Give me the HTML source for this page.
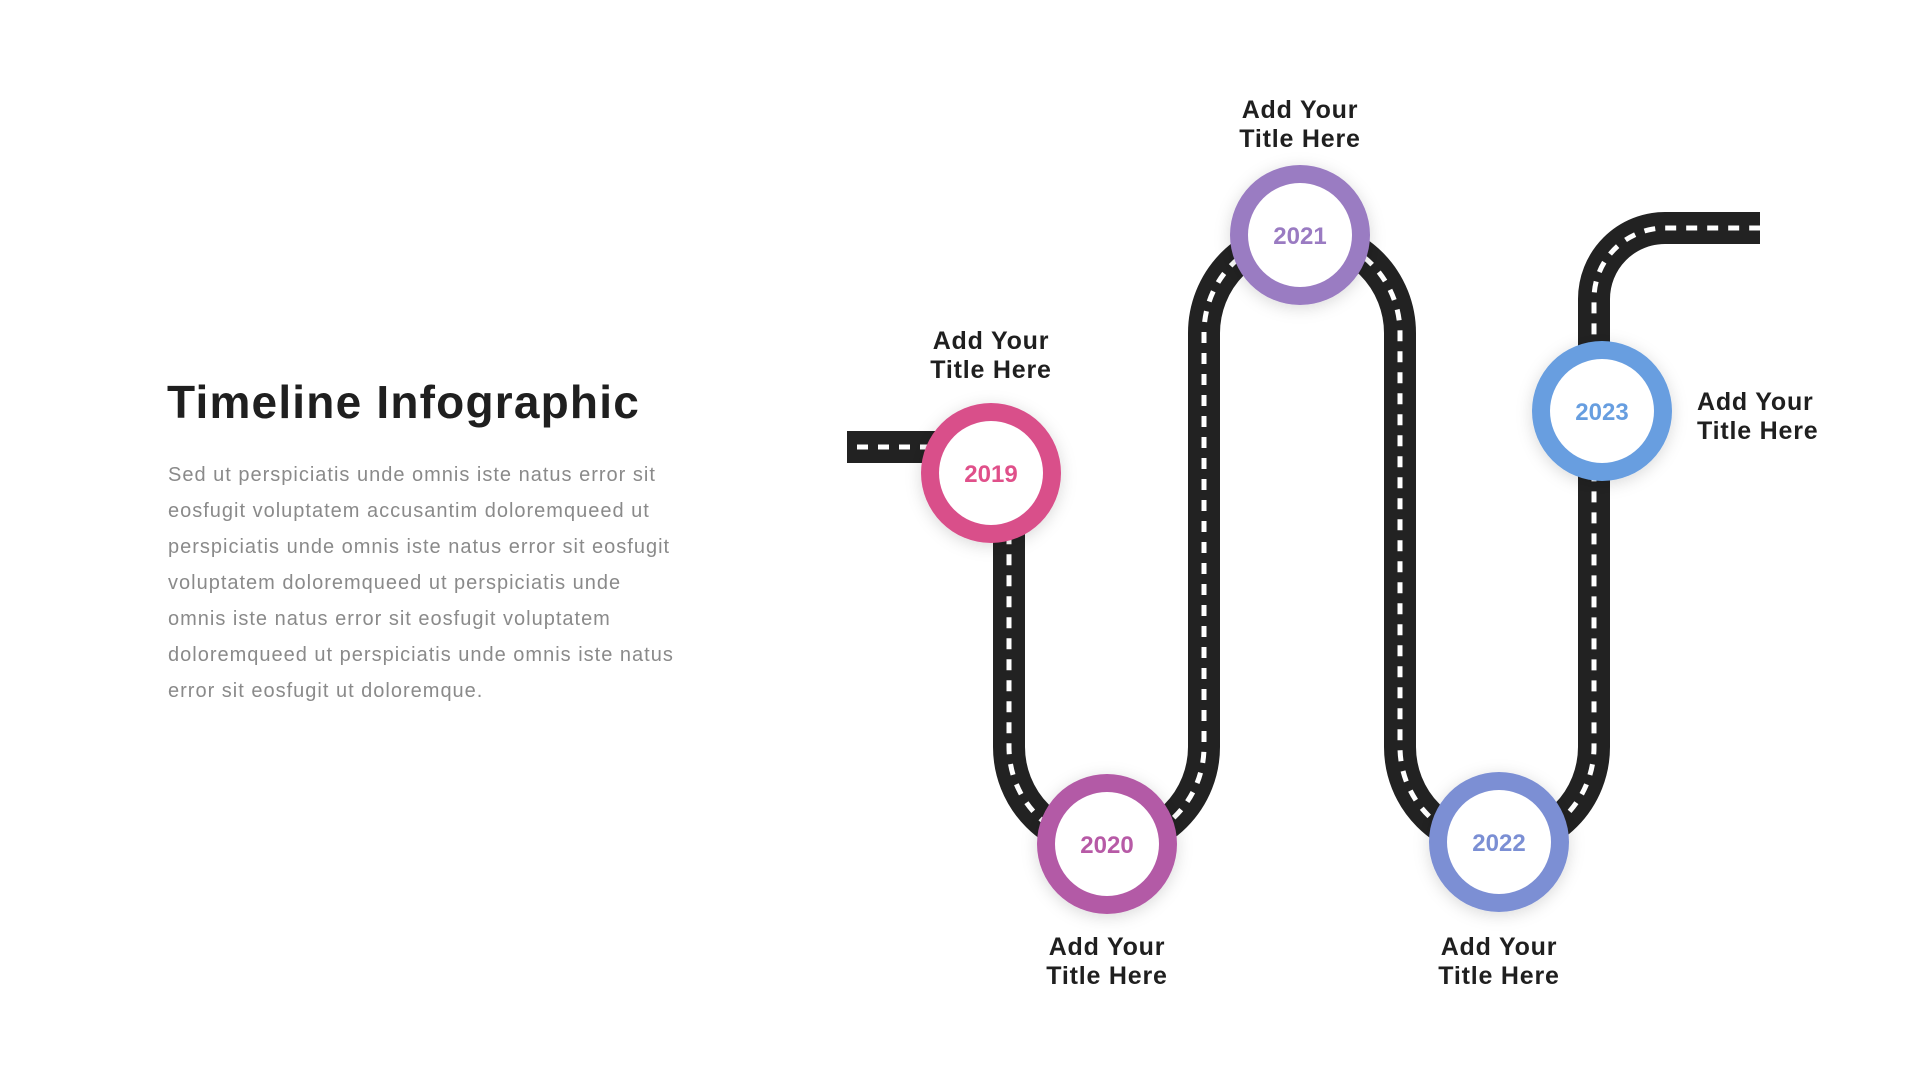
<!DOCTYPE html>
<html><head><meta charset="utf-8"><style>
html,body{margin:0;padding:0;background:#fff;}
body{width:1920px;height:1080px;position:relative;overflow:hidden;font-family:"Liberation Sans",sans-serif;}
h1{position:absolute;left:167px;top:375px;margin:0;font-size:46px;font-weight:bold;color:#1f1f1f;letter-spacing:1.2px;}
p{position:absolute;left:168px;top:457px;margin:0;font-size:20px;line-height:36px;color:#8a8a8a;white-space:nowrap;letter-spacing:1.0px;}
</style></head><body>
<h1>Timeline Infographic</h1>
<p>Sed ut perspiciatis unde omnis iste natus error sit<br>eosfugit voluptatem accusantim doloremqueed ut<br>perspiciatis unde omnis iste natus error sit eosfugit<br>voluptatem doloremqueed ut perspiciatis unde<br>omnis iste natus error sit eosfugit voluptatem<br>doloremqueed ut perspiciatis unde omnis iste natus<br>error sit eosfugit ut doloremque.</p>
<svg width="1920" height="1080" style="position:absolute;left:0;top:0">
<defs>
<filter id="sh" x="-50%" y="-50%" width="200%" height="200%"><feDropShadow dx="0" dy="3" stdDeviation="8" flood-color="#000" flood-opacity="0.15"/></filter>
</defs>
<g fill="none">
<path d="M847,447 H990 Q1009,447 1009,466 V747 A97.5,97.5 0 0 0 1204,747 V333 A98,98 0 0 1 1400,333 V747 A97,97 0 0 0 1594,747 V299 A71,71 0 0 1 1665,228 H1760" stroke="#222" stroke-width="32"/>
<path d="M857,447 H990 Q1009,447 1009,466 V747 A97.5,97.5 0 0 0 1204,747 V333 A98,98 0 0 1 1400,333 V747 A97,97 0 0 0 1594,747 V299 A71,71 0 0 1 1665,228 H1760" stroke="#fff" stroke-width="5" stroke-dasharray="11 10"/>
</g>
<g font-family="Liberation Sans, sans-serif" font-weight="bold" text-anchor="middle">
<circle cx="991" cy="473" r="70" fill="#d94f8a" filter="url(#sh)"/><circle cx="991" cy="473" r="52" fill="#fff"/>
<text x="991" y="482" font-size="24" fill="#e0508a">2019</text>
<circle cx="1107" cy="844" r="70" fill="#b35aa6" filter="url(#sh)"/><circle cx="1107" cy="844" r="52" fill="#fff"/>
<text x="1107" y="853" font-size="24" fill="#b75aa6">2020</text>
<circle cx="1300" cy="235" r="70" fill="#9a7bc2" filter="url(#sh)"/><circle cx="1300" cy="235" r="52" fill="#fff"/>
<text x="1300" y="244" font-size="24" fill="#9a7bc2">2021</text>
<circle cx="1499" cy="842" r="70" fill="#7b8fd4" filter="url(#sh)"/><circle cx="1499" cy="842" r="52" fill="#fff"/>
<text x="1499" y="851" font-size="24" fill="#7b8fd4">2022</text>
<circle cx="1602" cy="411" r="70" fill="#679ee0" filter="url(#sh)"/><circle cx="1602" cy="411" r="52" fill="#fff"/>
<text x="1602" y="420" font-size="24" fill="#679ee0">2023</text>
<g font-size="25" fill="#1f1f1f" letter-spacing="0.8">
<text x="991" y="349">Add Your</text><text x="991" y="378">Title Here</text>
<text x="1300" y="118">Add Your</text><text x="1300" y="147">Title Here</text>
<text x="1107" y="955">Add Your</text><text x="1107" y="984">Title Here</text>
<text x="1499" y="955">Add Your</text><text x="1499" y="984">Title Here</text>
<text x="1697" y="410" text-anchor="start">Add Your</text><text x="1697" y="439" text-anchor="start">Title Here</text>
</g>
</g>
</svg>
</body></html>
